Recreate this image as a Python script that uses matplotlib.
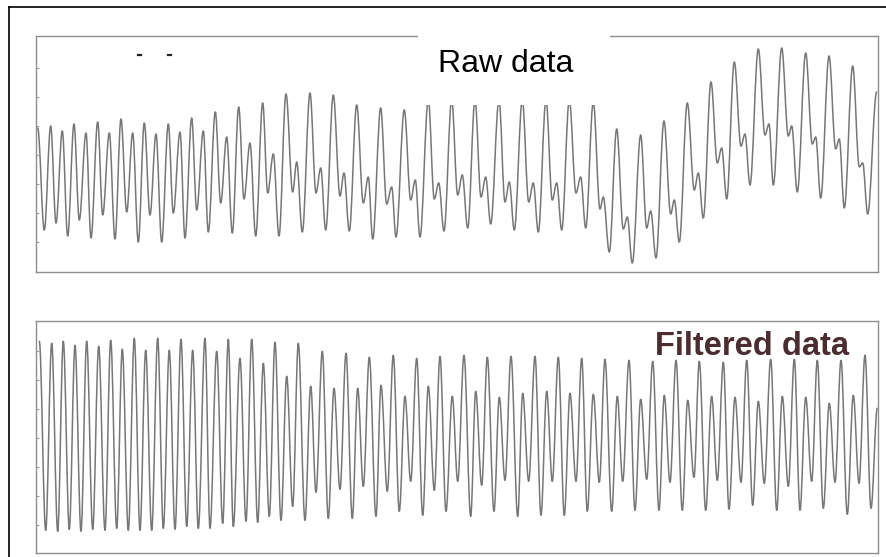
import matplotlib
matplotlib.use("Agg")
import matplotlib.pyplot as plt
from matplotlib.path import Path
from matplotlib.patches import PathPatch, Rectangle
from matplotlib.lines import Line2D

# Raw signal: alternating maxima / minima (time, amplitude), arbitrary units
raw_t = [1.7, 8.3, 14.7, 20.0, 26.3, 31.7, 38.0, 43.3, 50.0, 55.0,
         61.7, 66.7, 73.3, 79.0, 85.0, 90.7, 96.7, 102.3, 108.3, 114.0,
         120.0, 125.7, 132.3, 137.3, 144.0, 149.0, 155.7, 160.7, 167.3, 172.3,
         179.3, 184.7, 190.7, 196.3, 202.7, 208.0, 214.0, 219.7, 226.7, 231.7,
         237.3, 243.0, 250.0, 256.7, 260.7, 266.3, 274.0, 280.0, 284.7, 289.7,
         297.3, 304.0, 308.0, 313.3, 320.7, 327.3, 332.3, 336.7, 344.7, 350.7,
         355.7, 360.0, 368.3, 374.7, 379.3, 384.0, 392.3, 398.3, 402.7, 408.0,
         415.7, 421.7, 426.3, 431.7, 439.0, 445.0, 449.7, 454.7, 463.0, 469.0,
         473.3, 478.3, 486.3, 492.7, 497.3, 502.3, 510.0, 516.3, 520.7, 525.7,
         533.3, 540.0, 544.7, 549.7, 557.3, 564.0, 567.3, 573.3, 580.7, 587.3,
         591.3, 596.3, 604.7, 610.7, 614.7, 620.0, 628.0, 634.7, 638.3, 643.3,
         651.3, 658.3, 662.3, 667.3, 675.0, 681.3, 685.7, 690.7, 698.3, 705.0,
         709.0, 714.0, 722.3, 729.0, 733.0, 737.3, 745.7, 752.3, 755.7, 761.3,
         769.7, 776.3, 779.7, 784.7, 793.0, 799.7, 803.3, 808.3, 816.7, 823.3,
         826.7, 831.7, 840.7]
raw_v = [144, 42, 146, 49, 141, 36, 148, 52, 139, 34,
         150, 57, 139, 33, 153, 60, 139, 30, 149, 57,
         138, 30, 148, 59, 140, 34, 154, 62, 141, 40,
         160, 69, 135, 39, 165, 73, 129, 36, 169, 79,
         118, 36, 178, 80, 110, 40, 179, 79, 104, 42,
         177, 76, 99, 41, 167, 69, 95, 33, 164, 68,
         85, 35, 162, 72, 92, 35, 172, 73, 89, 41,
         172, 77, 97, 44, 172, 75, 95, 48, 172, 70,
         90, 42, 172, 70, 89, 40, 172, 72, 89, 42,
         172, 79, 95, 44, 170, 63, 75, 20, 143, 43,
         55, 9, 137, 44, 61, 14, 151, 58, 72, 30,
         169, 82, 99, 54, 190, 109, 124, 73, 210, 126,
         138, 87, 223, 137, 148, 87, 224, 136, 146, 80,
         219, 128, 135, 74, 216, 123, 133, 64, 206, 105,
         109, 58, 180]

# Filtered signal: alternating maxima / minima (time, amplitude)
filt_t = [3.3, 9.7, 15.7, 21.7, 27.3, 33.3, 39.0, 45.0, 50.7, 56.7,
          62.7, 69.0, 74.7, 80.7, 86.3, 92.3, 98.3, 104.0, 109.7, 115.7,
          121.7, 127.3, 133.3, 139.0, 145.0, 150.7, 156.7, 162.3, 169.0, 174.0,
          180.7, 186.7, 192.3, 197.3, 204.0, 210.0, 215.7, 221.7, 227.3, 233.3,
          239.0, 245.0, 250.7, 256.7, 262.3, 269.0, 274.7, 280.0, 286.3, 292.3,
          298.0, 304.0, 310.0, 316.3, 321.7, 327.3, 333.3, 340.0, 345.0, 351.3,
          357.3, 363.3, 369.0, 374.7, 380.7, 386.7, 392.3, 398.3, 404.0, 410.0,
          416.3, 421.7, 428.0, 434.7, 439.7, 445.7, 451.3, 458.0, 463.3, 469.0,
          475.0, 481.7, 486.7, 492.7, 499.0, 505.0, 510.7, 516.3, 522.3, 528.3,
          534.0, 540.0, 545.7, 551.3, 557.3, 563.3, 569.0, 575.7, 581.3, 586.7,
          593.0, 599.0, 604.7, 610.7, 616.7, 623.0, 628.3, 634.0, 640.0, 646.3,
          651.7, 658.0, 663.3, 669.7, 675.7, 681.3, 687.3, 693.0, 699.0, 705.0,
          710.7, 716.7, 722.3, 728.3, 734.7, 740.7, 746.3, 752.3, 758.3, 764.0,
          769.7, 775.7, 781.3, 787.3, 793.3, 799.0, 805.0, 811.3, 817.3, 823.0,
          829.0, 835.0, 841.3]
filt_v = [212, 23, 210, 22, 212, 24, 208, 22, 212, 24,
          207, 23, 213, 25, 204, 23, 215, 23, 203, 23,
          215, 25, 203, 24, 214, 27, 203, 25, 215, 25,
          202, 30, 214, 27, 195, 32, 214, 31, 190, 37,
          211, 33, 177, 47, 210, 33, 167, 61, 202, 35,
          165, 64, 200, 35, 165, 67, 196, 37, 168, 62,
          198, 42, 157, 72, 195, 38, 167, 63, 197, 42,
          157, 72, 198, 37, 162, 68, 196, 42, 156, 73,
          197, 37, 160, 72, 197, 38, 162, 72, 196, 38,
          160, 72, 195, 42, 159, 71, 194, 42, 157, 72,
          193, 43, 154, 74, 192, 43, 158, 71, 193, 43,
          153, 76, 192, 43, 157, 73, 191, 44, 156, 71,
          193, 48, 152, 70, 194, 43, 157, 67, 194, 43,
          156, 72, 193, 45, 150, 71, 193, 39, 158, 70,
          198, 45, 145]

raw_ticks = [30, 59, 88, 117, 146, 175, 204]
filt_ticks = [28, 57, 86, 115, 144, 173, 202]

LINE = "#777777"
SPINE = "#8e8e8e"


def smooth_path(t, v, k=0.36):
    """Smooth curve through successive extrema (horizontal tangent at each)."""
    verts = [(t[0], v[0])]
    codes = [Path.MOVETO]
    for i in range(1, len(t)):
        dt = t[i] - t[i - 1]
        verts += [(t[i - 1] + k * dt, v[i - 1]),
                  (t[i] - k * dt, v[i]),
                  (t[i], v[i])]
        codes += [Path.CURVE4] * 3
    return Path(verts, codes)


W, H = 886, 557
fig = plt.figure(figsize=(W / 100, H / 100), dpi=100)
fig.patch.set_facecolor("white")


def px_axes(x0, y0, x1, y1):
    return fig.add_axes([x0 / W, 1 - y1 / H, (x1 - x0) / W, (y1 - y0) / H])


ax_raw = px_axes(36, 36, 878, 272)
ax_filt = px_axes(36, 320.7, 878, 553.3)

for ax, t, v, ylim, ticks in [(ax_raw, raw_t, raw_v, 236, raw_ticks),
                              (ax_filt, filt_t, filt_v, 232.6, filt_ticks)]:
    ax.add_patch(PathPatch(smooth_path(t, v), fill=False, edgecolor=LINE,
                           lw=1.1, capstyle="round", joinstyle="round"))
    ax.set_xlim(0, 842)
    ax.set_ylim(0, ylim)
    ax.set_xticks([])
    ax.set_yticks(ticks)
    ax.set_yticklabels([])
    ax.tick_params(axis="y", direction="in", length=2.5, width=0.8,
                   color="#a0a0a0")
    for s in ax.spines.values():
        s.set_color(SPINE)
        s.set_linewidth(1.0)

# white label box over the top panel
fig.add_artist(Rectangle((417.5 / W, 1 - 105 / H), 192.5 / W, 77 / H,
                         transform=fig.transFigure, facecolor="white",
                         edgecolor="none", zorder=5))
fig.text(438 / W, 1 - 72.3 / H, "Raw data", fontsize=23,
         family="Liberation Sans", color="black", ha="left", va="baseline",
         zorder=6)

fig.text(655 / W, 1 - 355 / H, "Filtered data", fontsize=23.5,
         family="Liberation Sans", fontweight="bold", color="#4a2c31",
         ha="left", va="baseline", zorder=6)

# outer frame (top and left edges)
fig.add_artist(Line2D([9 / W, 1], [1 - 7 / H, 1 - 7 / H], color="black",
                      lw=1.2, transform=fig.transFigure))
fig.add_artist(Line2D([9 / W, 9 / W], [0, 1 - 7 / H], color="black",
                      lw=1.2, transform=fig.transFigure))

# two small dark dashes left over in the upper panel
for xp in (139, 169):
    fig.add_artist(Line2D([(xp - 1.5) / W, (xp + 1.5) / W],
                          [1 - 55 / H, 1 - 55 / H], color="#222222", lw=1.6,
                          transform=fig.transFigure))

fig.savefig("out.png", dpi=100, facecolor="white")
